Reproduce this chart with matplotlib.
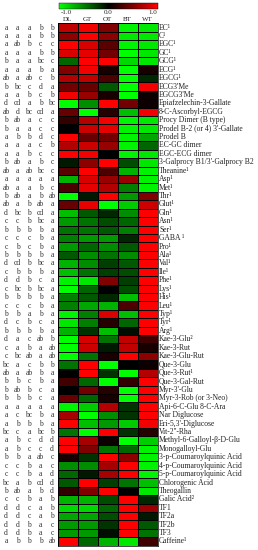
import numpy as np
import matplotlib
matplotlib.use('Agg')
import matplotlib.pyplot as plt
from matplotlib.colors import LinearSegmentedColormap

plt.rcParams['font.family'] = ['Liberation Serif', 'DejaVu Serif']

# columnas (tipos de te)
tipos = ['DL', 'GT', 'OT', 'BT', 'WT']

compuestos = [
    'EC¹', 'C¹', 'EGC¹', 'GC¹', 'GCG¹', 'ECG¹', 'EGCG¹', "ECG3'Me", "EGCG3'Me",
    'Epiafzelechin-3-Gallate', '8-C-Ascorbyl-EGCG', 'Procy Dimer (B type)',
    "Prodel B-2 (or 4) 3'-Gallate", 'Prodel B', 'EC-GC dimer', 'EGC-ECG dimer',
    "3-Galprocy B1/3'-Galprocy B2", 'Theanine¹', 'Asp¹', 'Met¹', 'Thr¹', 'Glut¹',
    'Gln¹', 'Asn¹', 'Ser¹', 'GABA ¹', 'Pro¹', 'Ala¹', 'Val¹', 'Ile¹', 'Phe¹',
    'Lys¹', 'His¹', 'Leu¹', 'Typ¹', 'Tyr¹', 'Arg¹', 'Kae-3-Glu²', 'Kae-3-Rut',
    'Kae-3-Glu-Rut', 'Que-3-Glu', 'Que-3-Rut¹', 'Que-3-Gal-Rut', "Myr-3'-Glu",
    'Myr-3-Rob (or 3-Neo)', 'Api-6-C-Glu 8-C-Ara', 'Nar Diglucose',
    "Eri-5,3'-Diglucose", "Vit-2''-Rha", 'Methyl-6-Galloyl-β-D-Glu',
    'Monogalloyl-Glu', '3-p-Coumaroylquinic Acid', '4-p-Coumaroylquinic Acid',
    '5-p-Coumaroylquinic Acid', 'Chlorogenic Acid', 'Theogallin', 'Galic Acid²',
    'TF1', 'TF2a', 'TF2b', 'TF3', 'Caffeine¹'
]

# valores normalizados (-1 a 1)
valores = np.array([
    [0.75, 0.95, 0.5, -0.95, -0.9],
    [0.55, 1.0, 0.55, -0.9, -0.9],
    [1.0, 0.85, 0.35, -0.95, -0.9],
    [0.85, 0.9, 0.45, -1.0, -0.9],
    [-0.4, 1.0, 1.0, -0.85, -0.9],
    [0.5, 0.95, 0.1, -1.0, 0.1],
    [0.7, 0.75, 0.3, -1.0, -0.15],
    [0.45, 0.4, -0.35, -1.0, 0.95],
    [0.95, 0.6, 0.1, -1.0, 0.05],
    [-1.0, -0.55, 1.0, 0.45, 0.05],
    [0.4, -1.0, 0.15, -0.75, 0.95],
    [0.2, 0.7, 0.95, -0.95, -0.9],
    [0.0, 0.8, 0.9, -0.95, -0.9],
    [1.0, 0.4, 0.45, -0.95, -0.65],
    [0.7, 0.8, 0.6, -0.95, -0.4],
    [1.0, 0.95, 0.0, -0.95, -0.9],
    [-0.1, 0.55, 1.0, -0.3, -0.9],
    [0.35, 1.0, 0.3, -0.7, -0.95],
    [-0.7, 0.85, 0.6, 0.6, -0.95],
    [0.3, 0.9, 0.7, -0.5, -0.95],
    [-1.0, -0.1, 1.0, -0.6, 0.5],
    [0.4, 0.9, -1.0, -0.8, 0.8],
    [-0.75, -0.35, -0.15, -0.55, 1.0],
    [-0.6, -0.45, -0.3, -0.4, 1.0],
    [-0.45, -0.45, -0.35, -0.5, 1.0],
    [-0.5, -0.6, -0.6, -0.15, 1.0],
    [-0.6, -0.4, -0.55, -0.35, 1.0],
    [-0.35, -0.55, -0.45, -0.55, 1.0],
    [-0.7, -0.55, -0.25, -0.35, 1.0],
    [-0.75, -0.45, -0.25, -0.3, 1.0],
    [-0.95, -0.9, 0.5, -0.25, 1.0],
    [-1.0, -0.4, 0.0, -0.3, 1.0],
    [-0.5, -0.35, -0.15, -0.75, 1.0],
    [-0.5, -0.65, -0.7, 0.3, 1.0],
    [-0.95, -0.5, 0.85, -0.75, 1.0],
    [-0.9, -0.5, 0.15, -0.4, 1.0],
    [-0.7, -0.2, -0.75, -0.05, 1.0],
    [-1.0, 0.85, -0.45, 0.75, 0.25],
    [-1.0, 0.8, -0.1, 0.75, 0.1],
    [-1.0, -0.45, 0.1, 1.0, 0.55],
    [-0.45, 1.0, -1.0, 0.0, 0.05],
    [0.0, 1.0, -0.2, -1.0, 0.7],
    [0.25, -0.4, -1.0, 0.2, 1.0],
    [0.0, 0.45, 0.15, -1.0, 1.0],
    [0.4, -0.4, 0.1, -1.0, 1.0],
    [-0.95, -0.8, 0.7, -0.2, 1.0],
    [0.65, -1.0, -0.55, -0.2, 1.0],
    [1.0, -0.75, -0.6, -0.8, 0.95],
    [-0.45, -1.0, 1.0, -0.2, 0.15],
    [1.0, 0.65, 0.05, -1.0, -0.8],
    [1.0, 0.5, -0.45, -0.4, -0.95],
    [0.1, -0.2, 1.0, 0.55, -0.95],
    [-0.55, -0.55, 0.65, 1.0, -0.95],
    [-0.4, -0.1, 0.65, 1.0, -0.95],
    [-0.35, 1.0, -0.25, -0.45, -0.75],
    [0.2, 0.5, 1.0, 0.0, -0.9],
    [-0.7, -0.7, -0.3, 1.0, -0.15],
    [-0.85, -0.85, -0.4, 1.0, 0.6],
    [-0.65, -0.65, -0.3, 1.0, -0.1],
    [-0.6, -0.6, -0.2, 1.0, -0.35],
    [-0.6, -0.6, -0.05, 1.0, -0.45],
    [1.0, -0.4, -0.7, -0.9, 0.25],
])

# letras de significancia (DL, GT, OT, BT, WT)
letras = [
    'a a a b b', 'a a a b b', 'a ab b c c', 'a a a b b', 'b a a bc c',
    'a a a b a', 'ab a ab c b', 'b bc c d a', 'a a b c b', 'd cd a b bc',
    'ab d bc cd a', 'b ab a c c', 'b a a c c', 'a b b d c', 'a a a c b',
    'a a b c c', 'b ab a b c', 'ab a ab bc c', 'a a a a a', 'ab a a b c',
    'b ab a b ab', 'ab a b ab a', 'd bc b cd a', 'c c b bc a', 'b b b b a',
    'c c c b a', 'c b c b a', 'b b b b a', 'd cd b bc a', 'c b b b a',
    'd d b c a', 'c bc b bc a', 'b b b b a', 'c c c b a', 'b b a b a',
    'd c b c a', 'b b b b a', 'd a c ab b', 'c a b a ab', 'c bc ab a ab',
    'bc a c b b', 'ab a ab b a', 'b b c b a', 'b ab b c a', 'b b b c a',
    'a a a a a', 'a c bc b a', 'a b b b a', 'bc c a bc b', 'a b c d d',
    'a b c c d', 'b b a ab c', 'c c b a c', 'c c b a d', 'bc a b cd d',
    'b ab a b d', 'c c b a b', 'd d c a b', 'd d c a b', 'd d b a c',
    'd d b a c', 'a b b b ab'
]

cmap = LinearSegmentedColormap.from_list('gkr', ['#00ff00', '#000000', '#ff0000'])

fig = plt.figure(figsize=(2.58, 5.5), dpi=100)
ax = fig.add_axes([0.2236, 0.0078, 0.387, 0.9498])
n = len(compuestos)
malla = ax.pcolormesh(np.arange(6), np.arange(n + 1), valores, cmap=cmap,
                      vmin=-1, vmax=1, edgecolors='black', linewidth=0.5)
ax.set_xlim(0, 5)
ax.set_ylim(n, 0)
ax.set_xticks([])
ax.set_yticks([])
for s in ax.spines.values():
    s.set_linewidth(0.5)

fs = 5.5
fs_top = 5.0
for i in range(n):
    ax.text(5.08, i + 0.5, compuestos[i], ha='left', va='center', fontsize=fs,
            color='#222222')
    for j, l in enumerate(letras[i].split()):
        ax.text(-2.585 + 0.575 * j, i + 0.5, l, ha='center', va='center',
                fontsize=fs, color='#333333')

for j, t in enumerate(tipos):
    ax.text(j + 0.5, -0.1, t, ha='center', va='bottom', fontsize=fs_top,
            color='#222222')

# barra de color
cax = fig.add_axes([0.2299, 0.9836, 0.3814, 0.0104])
cb = fig.colorbar(malla, cax=cax, orientation='horizontal')
cb.set_ticks([])
cb.outline.set_linewidth(0.3)
cax.text(0.07, -0.15, '-1.0', transform=cax.transAxes, ha='center', va='top',
         fontsize=fs_top, color='#222222')
cax.text(0.5, -0.15, '0.0', transform=cax.transAxes, ha='center', va='top',
         fontsize=fs_top, color='#222222')
cax.text(0.95, -0.15, '1.0', transform=cax.transAxes, ha='center', va='top',
         fontsize=fs_top, color='#222222')

plt.savefig('out.png', dpi=100)
